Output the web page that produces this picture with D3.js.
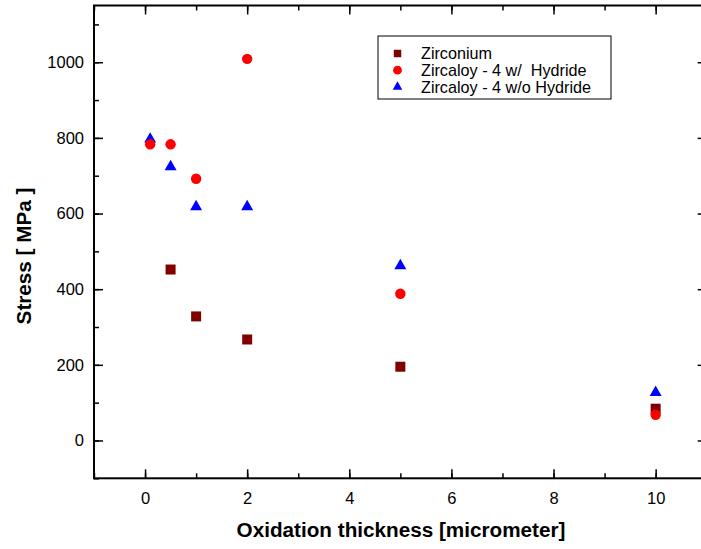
<!DOCTYPE html>
<html>
<head>
<meta charset="utf-8">
<script src="https://cdn.jsdelivr.net/npm/d3@7"></script>
<style>
  body { margin: 0; background: #fff; }
  svg { display: block; font-family: "Liberation Sans", Arial, sans-serif; }
</style>
</head>
<body>
<div id="chart"></div>
<script>
// Datos
const zrThickness = [0.5, 1, 2, 5, 10];
const zrStress = [452, 328, 267, 195, 84];

const hydThickness = [0.1, 0.5, 1, 2, 5, 10];
const hydStress = [783, 783, 692, 1009, 388, 68];

const noHydThickness = [0.1, 0.5, 1, 2, 5, 10];
const noHydStress = [799, 726, 620, 620, 464, 129];

const xTicks = [0, 2, 4, 6, 8, 10];
const yTicks = [0, 200, 400, 600, 800, 1000];

const legendLabels = ["Zirconium", "Zircaloy - 4 w/  Hydride", "Zircaloy - 4 w/o Hydride"];

// Dimensiones
const W = 701, H = 549;
const margin = { top: 5.5, right: -5.7, bottom: 70.7, left: 94 };
const width = W - margin.left - margin.right;
const height = H - margin.top - margin.bottom;

const svg = d3.select("#chart").append("svg")
    .attr("width", W)
    .attr("height", H);

const g = svg.append("g")
    .attr("transform", `translate(${margin.left},${margin.top})`);

const x = d3.scaleLinear().domain([-1, 11]).range([0, width]);
const y = d3.scaleLinear().domain([-100, 1150]).range([height, 0]);

const minorX = d3.range(-1, 12, 1);
const minorY = d3.range(-100, 1151, 100);

// Ejes: ticks hacia dentro en los cuatro lados
function styleAxis(sel) {
    sel.select(".domain").remove();
    sel.selectAll("line").attr("stroke", "#000").attr("stroke-width", 1.5);
    sel.selectAll("text").style("font-size", "16.5px").attr("fill", "#000");
}

// inferior
g.append("g")
    .attr("transform", `translate(0,${height})`)
    .call(d3.axisBottom(x).tickValues(minorX).tickSize(-5).tickFormat(""))
    .call(styleAxis);
g.append("g")
    .attr("transform", `translate(0,${height})`)
    .call(d3.axisBottom(x).tickValues(xTicks).tickSize(-9).tickPadding(13.5).tickFormat(d3.format("d")))
    .call(styleAxis);

// superior
g.append("g")
    .call(d3.axisTop(x).tickValues(minorX).tickSize(-5).tickFormat(""))
    .call(styleAxis);
g.append("g")
    .call(d3.axisTop(x).tickValues(xTicks).tickSize(-9).tickFormat(""))
    .call(styleAxis);

// izquierdo
g.append("g")
    .call(d3.axisLeft(y).tickValues(minorY).tickSize(-5).tickFormat(""))
    .call(styleAxis);
g.append("g")
    .call(d3.axisLeft(y).tickValues(yTicks).tickSize(-9).tickPadding(10).tickFormat(d3.format("d")))
    .call(styleAxis);

// derecho
g.append("g")
    .attr("transform", `translate(${width},0)`)
    .call(d3.axisRight(y).tickValues(minorY).tickSize(-5).tickFormat(""))
    .call(styleAxis);
g.append("g")
    .attr("transform", `translate(${width},0)`)
    .call(d3.axisRight(y).tickValues(yTicks).tickSize(-9).tickFormat(""))
    .call(styleAxis);

// marco
g.append("rect")
    .attr("width", width)
    .attr("height", height)
    .attr("fill", "none")
    .attr("stroke", "#000")
    .attr("stroke-width", 2);

// Símbolos
const sqSym = d3.symbol().type(d3.symbolSquare).size(100);
const triSym = d3.symbol().type(d3.symbolTriangle).size(62);
const cirSym = d3.symbol().type(d3.symbolCircle).size(85);

function drawSeries(xs, ys, sym, color, dy) {
    g.append("g").selectAll("path")
        .data(xs.map((d, i) => [d, ys[i]]))
        .enter().append("path")
        .attr("d", sym)
        .attr("transform", d => `translate(${x(d[0])},${y(d[1]) + (dy || 0)})`)
        .attr("fill", color);
}

drawSeries(zrThickness, zrStress, sqSym, "#800000");
drawSeries(noHydThickness, noHydStress, triSym, "#0000ff", 0.8);
drawSeries(hydThickness, hydStress, cirSym, "#ff0000");

// Etiquetas de ejes
svg.append("text")
    .attr("x", 401)
    .attr("y", 537)
    .attr("text-anchor", "middle")
    .style("font-size", "20.7px")
    .style("font-weight", "bold")
    .text("Oxidation thickness [micrometer]");

svg.append("text")
    .attr("transform", "translate(31,256) rotate(-90)")
    .attr("text-anchor", "middle")
    .style("font-size", "20.7px")
    .style("font-weight", "bold")
    .text("Stress [ MPa ]");

// Leyenda
const legend = svg.append("g").attr("transform", "translate(378,36)");
legend.append("rect")
    .attr("width", 233)
    .attr("height", 63)
    .attr("fill", "#fff")
    .attr("stroke", "#000")
    .attr("stroke-width", 1);

const legendSyms = [
    { sym: d3.symbol().type(d3.symbolSquare).size(56), color: "#800000" },
    { sym: d3.symbol().type(d3.symbolCircle).size(60), color: "#ff0000" },
    { sym: d3.symbol().type(d3.symbolTriangle).size(40), color: "#0000ff" }
];

const items = legend.selectAll(".item")
    .data(legendLabels)
    .enter().append("g")
    .attr("transform", (d, i) => `translate(0,${17.5 + i * 16.7})`);

items.append("path")
    .attr("d", (d, i) => legendSyms[i].sym())
    .attr("transform", "translate(19.5,0)")
    .attr("fill", (d, i) => legendSyms[i].color);

items.append("text")
    .attr("x", 43)
    .attr("dy", "0.36em")
    .style("font-size", "16.2px")
    .style("white-space", "pre")
    .attr("xml:space", "preserve")
    .text(d => d);
</script>
</body>
</html>
